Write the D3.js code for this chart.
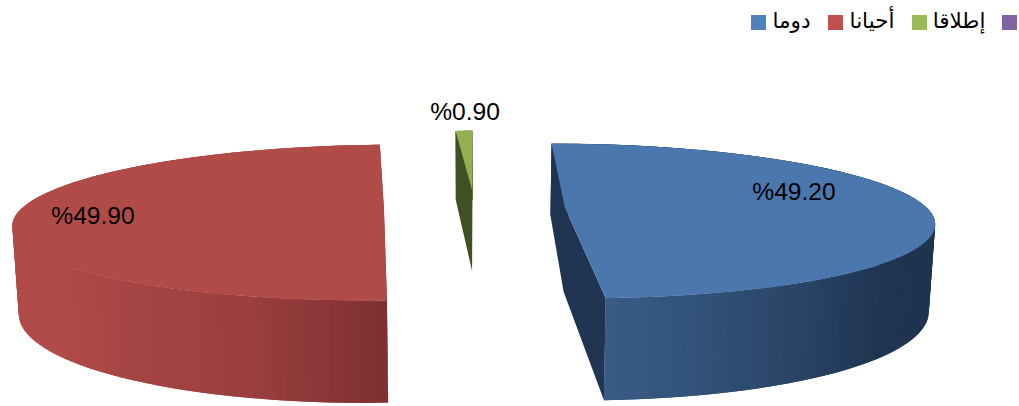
<!DOCTYPE html>
<html><head><meta charset="utf-8">
<style>html,body{margin:0;padding:0;background:#fff}svg{display:block}</style>
<script src="https://cdnjs.cloudflare.com/ajax/libs/d3/7.8.5/d3.min.js"></script>
</head><body><div id="c"></div>
<script>
// data
const legendNames = ["دوما", "أحيانا", "إطلاقا"];
const values = [49.2, 49.9, 0.9, 0];
const legendColors = ["#4f81bd", "#c0504d", "#9bbb59", "#8064a2"];
const topColors = ["#4a78ae", "#b04b48", "#93b050"];
const faceColors = ["#1f3552", "#7f3131", "#404f24"];

// layout
const W = 1019, H = 406;
const xv = 474.5, yh = -225, G = 433, Sx = 362, k = 0.1736, E = 0.25;
const wallGrow = 0.195, wallPinch = 0.986;
const labelPos = [[794, 200], [93, 224], [465, 120]];
const legendSq = [751, 828, 912, 1002];
const legendTx = [791.5, 872, 959];

const svg = d3.select("#c").append("svg").attr("width", W).attr("height", H);
const arcs = d3.pie().sort(null).startAngle(0).endAngle(2 * Math.PI)(values);

function project(mid, theta, r, bottom) {
  const X = E * Math.sin(mid) + r * Math.sin(theta);
  const Z = E * Math.cos(mid) + r * Math.cos(theta);
  const w = 1 + k * Z;
  let x = xv + Sx * X / w, y = yh + G / w;
  if (bottom) { y = y + wallGrow * (y - yh); x = xv + (x - xv) * wallPinch; }
  return [x, y];
}
const line = d3.line();
const deg = Math.PI / 180;
const step = 1.5 * deg;

// wall shading along the outer rim (by angle in degrees)
const wallShade = [
  d3.scaleLinear().domain([95, 130, 177]).range(["#1f3450", "#1f3450", "#395d88"]).clamp(true),
  d3.scaleLinear().domain([177, 195, 230, 360]).range(["#7f3131", "#9a3f3e", "#b04b48", "#b04b48"]).clamp(true),
  d3.scaleLinear().domain([0, 360]).range(["#404f24", "#404f24"])
];

[0, 1, 2].forEach(i => {
  const a = arcs[i];
  const mid = (a.startAngle + a.endAngle) / 2;
  const g = svg.append("g");
  // radial cut faces, as one outline so no seam shows at the centre
  const s = a.startAngle, e = a.endAngle;
  g.append("path").attr("d", line([
    project(mid, s, 1, false), project(mid, 0, 0, false), project(mid, e, 1, false),
    project(mid, e, 1, true), project(mid, 0, 0, true), project(mid, s, 1, true)
  ]) + "Z").attr("fill", faceColors[i]);
  // outer rim, in overlapping bands so no seams show
  const bands = d3.range(a.startAngle, a.endAngle, step);
  g.selectAll("path.rim").data(bands).join("path").attr("class", "rim")
    .attr("d", t => {
      const t2 = Math.min(t + 2 * step, a.endAngle);
      return line([project(mid, t, 1, false), project(mid, t2, 1, false),
                   project(mid, t2, 1, true), project(mid, t, 1, true)]) + "Z";
    })
    .attr("fill", t => wallShade[i](t / deg));
  // top face
  const topPts = [project(mid, 0, 0, false)];
  d3.range(a.startAngle, a.endAngle, 0.5 * deg).forEach(t => topPts.push(project(mid, t, 1, false)));
  topPts.push(project(mid, a.endAngle, 1, false));
  g.append("path").attr("d", line(topPts) + "Z").attr("fill", topColors[i]);
});

// value labels
svg.selectAll("text.val").data(values.slice(0, 3)).join("text").attr("class", "val")
  .attr("x", (d, i) => labelPos[i][0]).attr("y", (d, i) => labelPos[i][1])
  .attr("text-anchor", "middle")
  .attr("font-family", "'Liberation Sans', Arial, sans-serif").attr("font-size", 24.6)
  .attr("fill", "#000")
  .text(d => "%" + d.toFixed(2));

// legend
svg.selectAll("rect.leg").data(legendColors).join("rect").attr("class", "leg")
  .attr("x", (d, i) => legendSq[i]).attr("y", 15).attr("width", 15).attr("height", 15)
  .attr("fill", d => d);
svg.selectAll("text.leg").data(legendNames).join("text").attr("class", "leg")
  .attr("x", (d, i) => legendTx[i]).attr("y", 28)
  .attr("text-anchor", "middle")
  .attr("font-family", "'Liberation Sans', 'DejaVu Sans', sans-serif").attr("font-size", 21.5)
  .attr("fill", "#000")
  .text(d => d);
</script></body></html>
